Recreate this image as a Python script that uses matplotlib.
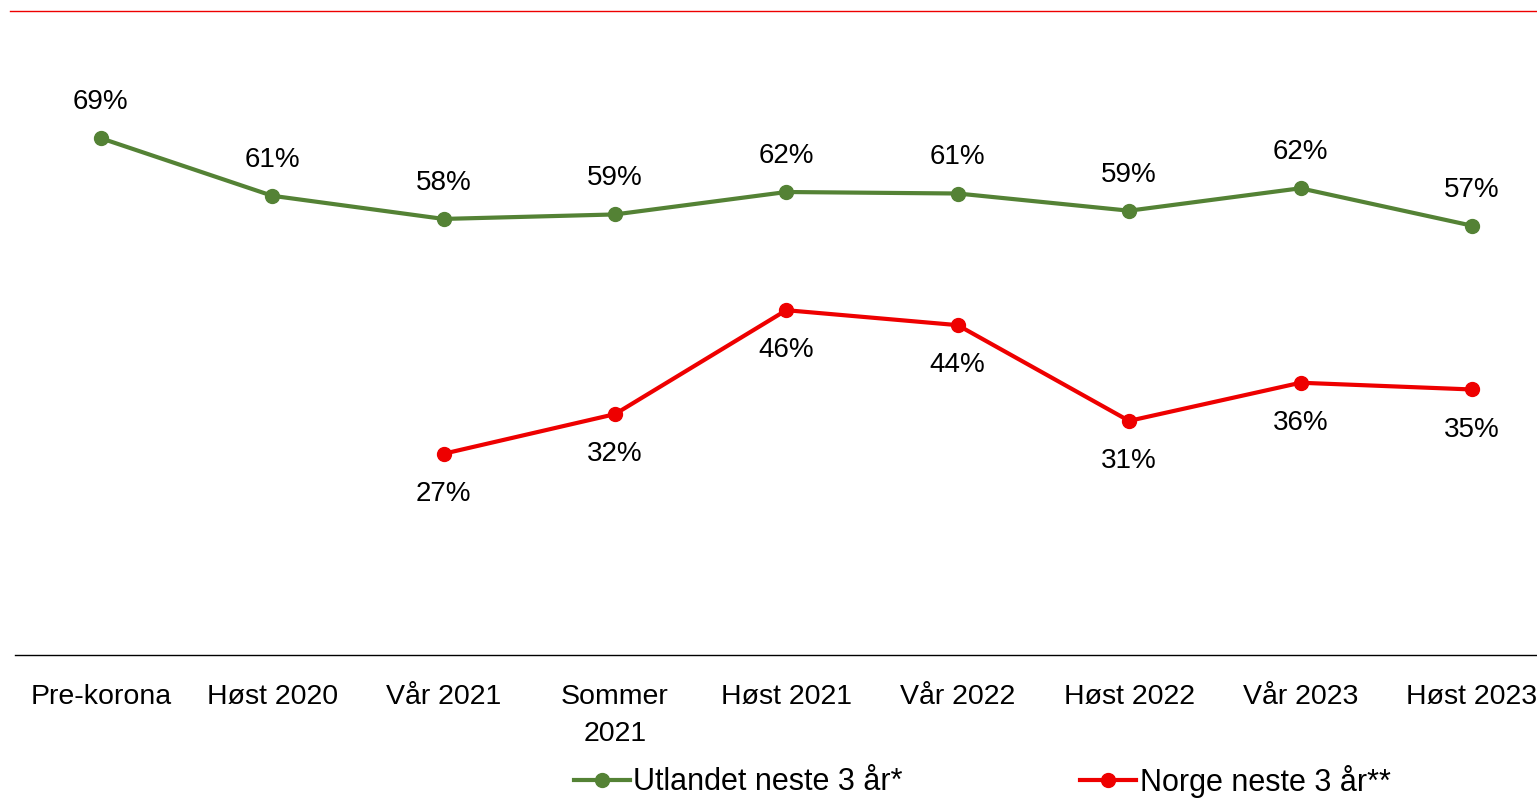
import matplotlib
matplotlib.use("Agg")
import matplotlib.pyplot as plt
from matplotlib.lines import Line2D
import numpy as np

categories = ["Pre-korona", "Høst 2020", "Vår 2021", "Sommer\n2021", "Høst 2021",
              "Vår 2022", "Høst 2022", "Vår 2023", "Høst 2023"]
utlandet = [69.1, 61.4, 58.3, 58.9, 61.9, 61.7, 59.4, 62.4, 57.4]
utlandet_labels = ["69%", "61%", "58%", "59%", "62%", "61%", "59%", "62%", "57%"]
norge = [None, None, 26.9, 32.2, 46.1, 44.1, 31.3, 36.4, 35.5]
norge_labels = [None, None, "27%", "32%", "46%", "44%", "31%", "36%", "35%"]

green = "#548235"
red = "#EE0000"

plt.rcParams['font.family'] = ['Liberation Sans', 'DejaVu Sans']

W, H = 1537, 799
fig = plt.figure(figsize=(W / 100, H / 100), dpi=100)
left = 15 / W
width = 9 * 171.4 / W
bottom = 1 - 655 / H
top = 1 - 11 / H
ax = fig.add_axes([left, bottom, width, top - bottom])

x = np.arange(len(categories))
ax.plot(x, utlandet, color=green, lw=3, marker='o', ms=10)
nx = [i for i, v in enumerate(norge) if v is not None]
nv = [v for v in norge if v is not None]
ax.plot(nx, nv, color=red, lw=3, marker='o', ms=10)

for i, (v, lab) in enumerate(zip(utlandet, utlandet_labels)):
    ax.annotate(lab, (i, v), xytext=(0, 26), textcoords='offset points',
                ha='center', va='center', fontsize=20)
for i in nx:
    ax.annotate(norge_labels[i], (i, norge[i]), xytext=(0, -29), textcoords='offset points',
                ha='center', va='center', fontsize=20)

ax.set_xlim(-0.5, 8.5)
ax.set_ylim(0, 86.1)
ax.set_yticks([])
ax.set_xticks(x)
ax.set_xticklabels(categories, fontsize=20.5, linespacing=1.55)
ax.tick_params(axis='x', length=0, pad=21)
for s in ['top', 'right', 'left']:
    ax.spines[s].set_visible(False)
ax.spines['bottom'].set_color('black')
ax.spines['bottom'].set_linewidth(1)

fig.add_artist(Line2D([10 / W, 1], [1 - 11 / H, 1 - 11 / H], color=red, lw=1,
                      transform=fig.transFigure))

handles = [Line2D([], [], color=green, lw=3, marker='o', ms=10),
           Line2D([], [], color=red, lw=3, marker='o', ms=10)]
fig.legend(handles, ["Utlandet neste 3 år*", "Norge neste 3 år**"], loc='center',
           bbox_to_anchor=(982 / W, 1 - 781 / H), ncol=2, frameon=False,
           fontsize=22, handlelength=1.85, handletextpad=0.1, columnspacing=5.8)

fig.savefig("out.png", dpi=100)
